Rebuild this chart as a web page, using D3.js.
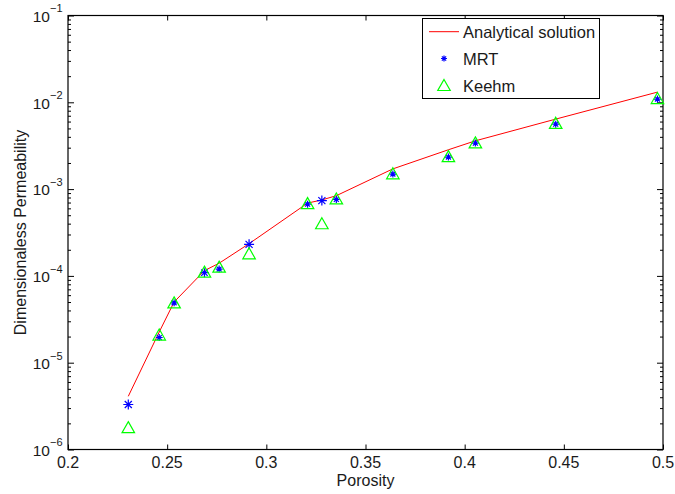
<!DOCTYPE html>
<html>
<head>
<meta charset="utf-8">
<script src="https://cdn.jsdelivr.net/npm/d3@7"></script>
<style>
  html, body { margin: 0; padding: 0; background: #fff; }
  svg { display: block; }
  text { font-family: "Liberation Sans", Arial, Helvetica, sans-serif; fill: #1a1a1a; }
</style>
</head>
<body>
<svg id="chart" width="675" height="494"></svg>
<script>
// ---- data ----
const porosity   = [0.2304, 0.246, 0.2535, 0.2688, 0.2762, 0.2913, 0.3208, 0.328, 0.3353, 0.3638, 0.3918, 0.4054, 0.4459, 0.4972];
const analytical = [4.1e-6, 2.26e-5, 5.0e-5, 1.15e-4, 1.4e-4, 2.35e-4, 6.9e-4, 7.5e-4, 8.4e-4, 1.71e-3, 2.84e-3, 3.6e-3, 6.4e-3, 1.31e-2];
const mrt        = [3.3e-6, 1.95e-5, 4.9e-5, 1.09e-4, 1.2e-4, 2.31e-4, 6.7e-4, 7.37e-4, 7.6e-4, 1.49e-3, 2.34e-3, 3.39e-3, 5.6e-3, 1.09e-2];
const keehm      = [1.81e-6, 2.11e-5, 4.95e-5, 1.12e-4, 1.28e-4, 1.82e-4, 6.9e-4, 4.04e-4, 7.8e-4, 1.52e-3, 2.4e-3, 3.45e-3, 5.8e-3, 1.12e-2];
const xTicks     = [0.2, 0.25, 0.3, 0.35, 0.4, 0.45, 0.5];
const xTickLabels = ["0.2", "0.25", "0.3", "0.35", "0.4", "0.45", "0.5"];
const yExponents = [-1, -2, -3, -4, -5, -6];
const legendLabels = ["Analytical solution", "MRT", "Keehm"];
const xLabel = "Porosity";
const yLabel = "Dimensionaless Permeability";

// ---- layout ----
const L = 68, R = 663, T = 15.5, B = 449.5;
const svg = d3.select("#chart");
const x = d3.scaleLinear().domain([0.2, 0.5]).range([L, R]);
const y = d3.scaleLog().domain([1e-6, 1e-1]).range([B, T]);

// minor/major y ticks
const yMajor = yExponents.map(e => Math.pow(10, e));
const yMinor = [];
for (let e = -6; e < -1; e++) for (let m = 2; m <= 9; m++) yMinor.push(m * Math.pow(10, e));

const gAx = svg.append("g");
gAx.append("g").attr("transform", `translate(0,${B})`)
  .call(d3.axisBottom(x).tickValues(xTicks).tickSize(-5).tickFormat(""))
  .call(g => g.select(".domain").remove());
gAx.append("g").attr("transform", `translate(0,${T})`)
  .call(d3.axisTop(x).tickValues(xTicks).tickSize(-5).tickFormat(""))
  .call(g => g.select(".domain").remove());
[[L, d3.axisLeft], [R, d3.axisRight]].forEach(([pos, ax]) => {
  gAx.append("g").attr("transform", `translate(${pos},0)`)
    .call(ax(y).tickValues(yMajor).tickSize(-6).tickFormat(""))
    .call(g => g.select(".domain").remove());
  gAx.append("g").attr("transform", `translate(${pos},0)`)
    .call(ax(y).tickValues(yMinor).tickSize(-3).tickFormat(""))
    .call(g => g.select(".domain").remove());
});
gAx.selectAll(".tick line").attr("stroke", "#000").attr("stroke-width", 1);

// box
svg.append("rect").attr("x", L).attr("y", T).attr("width", R - L).attr("height", B - T)
  .attr("fill", "none").attr("stroke", "#000").attr("stroke-width", 1.2);

// x tick labels
svg.append("g").selectAll("text").data(xTicks).join("text")
  .attr("x", d => x(d)).attr("y", B + 18.5)
  .attr("text-anchor", "middle").attr("font-size", 16)
  .text((d, i) => xTickLabels[i]);

// y tick labels with superscripts
const yl = svg.append("g").selectAll("text").data(yExponents).join("text")
  .attr("x", L - 5.5).attr("y", d => y(Math.pow(10, d)) + 6.3)
  .attr("text-anchor", "end").attr("font-size", 15.5);
yl.append("tspan").text("10");
yl.append("tspan").attr("dy", -9.5).attr("font-size", 11).text(d => "\u2212" + Math.abs(d));

// axis titles
svg.append("text").attr("x", (L + R) / 2).attr("y", 486)
  .attr("text-anchor", "middle").attr("font-size", 16).text(xLabel);
svg.append("text").attr("transform", `translate(25.5,${(T + B) / 2}) rotate(-90)`)
  .attr("text-anchor", "middle").attr("font-size", 16).text(yLabel);

// ---- marks ----
const line = d3.line().x((d, i) => x(porosity[i])).y(d => y(d));
svg.append("path").datum(analytical).attr("d", line)
  .attr("fill", "none").attr("stroke", "#ff0000").attr("stroke-width", 1);

function asterisk(r) {
  const a = r * Math.SQRT1_2;
  return `M${-r},0L${r},0M0,${-r}L0,${r}M${-a},${-a}L${a},${a}M${-a},${a}L${a},${-a}`;
}
function triangle(w, h) {
  return `M0,${-h / 2}L${w / 2},${h / 2}L${-w / 2},${h / 2}Z`;
}
// marker size (style) per MRT point
const mrtSize = [5, 3.5, 3.5, 4.5, 3.5, 5, 3.5, 5, 3.5, 3.5, 3.5, 3.5, 3.5, 3.5];

svg.append("g").selectAll("path").data(mrt).join("path")
  .attr("transform", (d, i) => `translate(${x(porosity[i])},${y(d)})`)
  .attr("d", (d, i) => asterisk(mrtSize[i]))
  .attr("stroke", "#0000ff").attr("stroke-width", 1.2).attr("fill", "none");

svg.append("g").selectAll("path").data(keehm).join("path")
  .attr("transform", (d, i) => `translate(${x(porosity[i])},${y(d)})`)
  .attr("d", triangle(12.5, 11))
  .attr("stroke", "#00ff00").attr("stroke-width", 1.2).attr("fill", "none");

// ---- legend ----
const lg = svg.append("g");
lg.append("rect").attr("x", 422.5).attr("y", 18.5).attr("width", 177).attr("height", 80)
  .attr("fill", "#fff").attr("stroke", "#000").attr("stroke-width", 1);
const rowsY = [31.7, 58.5, 85];
lg.append("line").attr("x1", 429).attr("x2", 459).attr("y1", rowsY[0]).attr("y2", rowsY[0])
  .attr("stroke", "#ff0000").attr("stroke-width", 1);
lg.append("path").attr("transform", `translate(444,${rowsY[1]})`).attr("d", asterisk(3))
  .attr("stroke", "#0000ff").attr("stroke-width", 1.2).attr("fill", "none");
lg.append("path").attr("transform", `translate(444,${rowsY[2]})`).attr("d", triangle(12.5, 11))
  .attr("stroke", "#00ff00").attr("stroke-width", 1.2).attr("fill", "none");
lg.selectAll("text.lab").data(legendLabels).join("text").attr("class", "lab")
  .attr("x", 463).attr("y", (d, i) => rowsY[i] + 6.7)
  .attr("font-size", 16.5).text(d => d);
</script>
</body>
</html>
